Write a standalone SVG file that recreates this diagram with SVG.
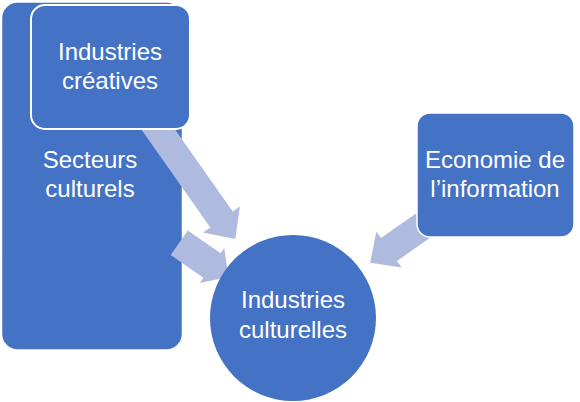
<svg xmlns="http://www.w3.org/2000/svg" width="580" height="402" viewBox="0 0 580 402">
  <style>
    .box { fill: #4472C4; stroke: #FFFFFF; stroke-width: 1.5; }
    .arrow { fill: #AEBBDE; stroke: none; }
    .lbl { font-family: "Liberation Sans", Arial, sans-serif; font-size: 24px; fill: #FFFFFF; text-anchor: middle; }
  </style>
  <rect width="580" height="402" fill="#FFFFFF"/>
  <g id="secteurs-culturels">
    <rect class="box" x="1.5" y="2" width="181" height="348" rx="16" ry="16"/>
    <text class="lbl" x="90" y="168">Secteurs</text>
    <text class="lbl" x="90" y="197">culturels</text>
  </g>
  <g id="connectors">
    <polygon class="arrow" points="152.2,97.1 232.7,211.6 239.9,206.6 235.3,239.1 203.1,232.4 210.3,227.4 129.8,112.9"/>
    <polygon class="arrow" points="187.8,230.4 220.6,253.2 224.3,247.9 228.4,276.9 199.7,283.1 203.4,277.8 170.7,255"/>
    <polygon class="arrow" points="446.2,226.5 397,261 401.7,267.5 370.1,262.7 376.4,231.5 381,238 430.2,203.5"/>
  </g>
  <g id="industries-creatives">
    <rect class="box" x="31" y="5" width="159" height="124" rx="14" ry="14" style="stroke-width:2"/>
    <text class="lbl" x="110" y="60">Industries</text>
    <text class="lbl" x="110" y="89">créatives</text>
  </g>
  <g id="industries-culturelles">
    <circle class="box" cx="293" cy="318" r="83" style="stroke:none"/>
    <text class="lbl" x="293" y="308">Industries</text>
    <text class="lbl" x="293" y="338">culturelles</text>
  </g>
  <g id="economie-information">
    <rect class="box" x="417" y="113" width="157" height="124" rx="13" ry="13"/>
    <text class="lbl" x="495" y="168">Economie de</text>
    <text class="lbl" x="495" y="197">l’information</text>
  </g>
</svg>
